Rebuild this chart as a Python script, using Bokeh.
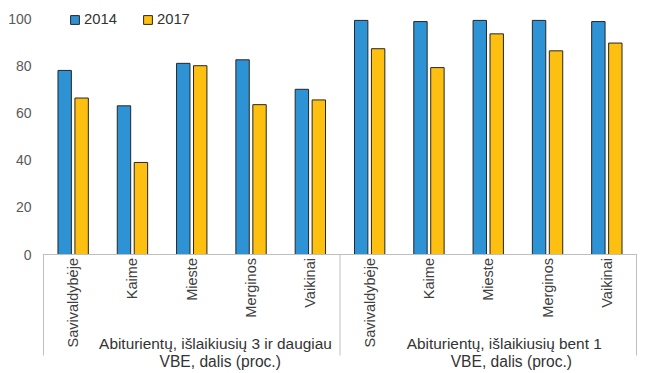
from math import pi
from bokeh.plotting import figure
from bokeh.models import (Range1d, FixedTicker, ColumnDataSource, Span,
                          Legend, LegendItem)
from bokeh.core.properties import value
from bokeh.transform import dodge
from bokeh.embed import file_html
from bokeh.resources import INLINE

categories = ["Savivaldybėje", "Kaime", "Mieste", "Merginos", "Vaikinai",
              "Savivaldybėje", "Kaime", "Mieste", "Merginos", "Vaikinai"]
group_line1 = ["Abiturientų, išlaikiusių 3 ir daugiau", "Abiturientų, išlaikiusių bent 1"]
group_line2 = ["VBE, dalis (proc.)", "VBE, dalis (proc.)"]
group_bounds = [0, 5, 10]
v2014 = [78, 63, 81, 82.5, 70, 99.2, 98.7, 99.2, 99.2, 98.7]
v2017 = [66.3, 39, 80, 63.5, 65.5, 87.2, 79.2, 93.5, 86.3, 89.6]
yticks = [0, 20, 40, 60, 80, 100]

FONT = "Liberation Sans"
BLUE = "#2D93D4"
YELLOW = "#FDC010"

xs = [i + 0.5 for i in range(len(categories))]
src = ColumnDataSource(dict(x=xs, cat=categories, a=v2014, b=v2017))

# scale: 59.3 px per category, 2.36 px per percent point
p = figure(width=645, height=373, output_backend="svg", toolbar_location=None,
           x_range=Range1d(-0.0169, 10.0169), y_range=Range1d(-50.42, 107.63),
           x_axis_location=None,
           min_border_left=42, min_border_right=8, min_border_top=0,
           min_border_bottom=0)
p.outline_line_color = None
p.xgrid.grid_line_color = None
p.ygrid.grid_line_color = None

r1 = p.vbar(x=dodge("x", -0.143, range=p.x_range), top="a", width=0.226, source=src,
            fill_color=BLUE, line_color="#262626", line_width=1)
r2 = p.vbar(x=dodge("x", 0.143, range=p.x_range), top="b", width=0.226, source=src,
            fill_color=YELLOW, line_color="#262626", line_width=1)

# y axis
p.yaxis.ticker = FixedTicker(ticks=yticks)
p.yaxis.axis_line_color = None
p.yaxis.major_tick_line_color = None
p.yaxis.minor_tick_line_color = None
p.yaxis.major_label_text_font = FONT
p.yaxis.major_label_text_font_size = "14px"
p.yaxis.major_label_text_color = "#595959"
p.yaxis.major_label_standoff = 5

# baseline and group separators
p.add_layout(Span(location=0, dimension="width", line_color="#bfbfbf", line_width=1))
p.segment(x0=group_bounds, x1=group_bounds, y0=[0] * 3, y1=[-42.8] * 3,
          line_color="#bfbfbf", line_width=1)

# category labels (rotated)
p.text(x="x", y=-1.5, text="cat", source=src, angle=pi / 2,
       text_align="right", text_baseline="middle",
       text_font=value(FONT), text_font_size="14.5px", text_color="#404040")

# group labels (Excel-style wrapped, slightly right of group centre)
gsrc = ColumnDataSource(dict(x1=[2.90, 7.77], x2=[2.98, 7.89],
                             l1=group_line1, l2=group_line2))
p.text(x="x1", y=-37.7, text="l1", source=gsrc, text_align="center",
       text_baseline="alphabetic", text_font=value(FONT), text_font_size="15.4px",
       text_color="#333333")
p.text(x="x2", y=-45.3, text="l2", source=gsrc, text_align="center",
       text_baseline="alphabetic", text_font=value(FONT), text_font_size="15.6px",
       text_color="#333333")

legend = Legend(items=[LegendItem(label="2014", renderers=[r1]),
                       LegendItem(label="2017", renderers=[r2])],
                orientation="horizontal", location=(27, 346),
                glyph_width=11, glyph_height=11, label_height=11,
                label_standoff=4, spacing=25, padding=0, margin=0,
                border_line_color=None, background_fill_alpha=0,
                label_text_font=FONT, label_text_font_size="14.8px",
                label_text_color="#333333")
p.add_layout(legend)

open("out.html", "w").write(file_html(p, INLINE))
